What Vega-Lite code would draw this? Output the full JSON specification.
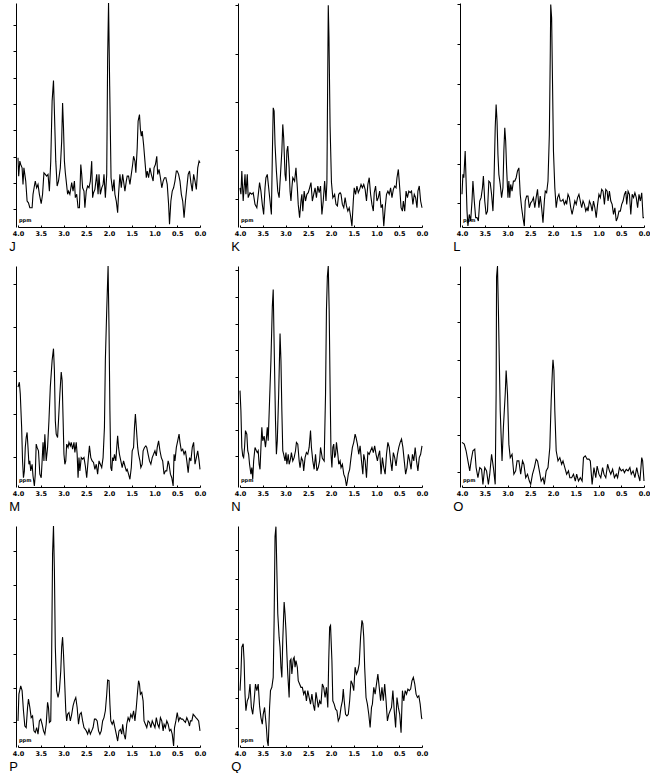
{
"$schema": "https://vega.github.io/schema/vega-lite/v6.json",
"padding": {"left": 9, "top": 0, "right": 0, "bottom": 0},
"background": "white",
"config": {
 "view": {"stroke": null},
 "axisX": {"labelFontSize": 6.5, "labelFontWeight": "bold", "labelFont": "DejaVu Sans", "labelColor": "black", "tickSize": -2, "tickColor": "black", "domainColor": "black", "grid": false, "labelPadding": 5, "labelFlush": false, "labelOverlap": false, "labelSeparation": 0, "tickCount": 20},
 "axisY": {"labels": false, "tickSize": 3, "tickColor": "black", "domainColor": "black", "grid": false, "offset": 2, "tickCount": 20},
 "title": {"orient": "bottom", "anchor": "start", "fontSize": 13, "fontWeight": "normal", "font": "Liberation Sans", "color": "black", "offset": 0, "dx": -3}
},
"datasets": {
"J": [{"ppm":4.00,"amp":30.9},{"ppm":3.985,"amp":22.7},{"ppm":3.96,"amp":29.4},{"ppm":3.94,"amp":27.9},{"ppm":3.91,"amp":26.4},{"ppm":3.89,"amp":19.0},{"ppm":3.87,"amp":26.4},{"ppm":3.85,"amp":23.5},{"ppm":3.83,"amp":20.5},{"ppm":3.80,"amp":11.6},{"ppm":3.77,"amp":10.8},{"ppm":3.74,"amp":8.6},{"ppm":3.69,"amp":8.6},{"ppm":3.67,"amp":14.6},{"ppm":3.64,"amp":18.3},{"ppm":3.62,"amp":20.5},{"ppm":3.59,"amp":17.5},{"ppm":3.56,"amp":19.0},{"ppm":3.53,"amp":14.6},{"ppm":3.49,"amp":10.4},{"ppm":3.46,"amp":14.6},{"ppm":3.43,"amp":24.2},{"ppm":3.40,"amp":23.5},{"ppm":3.37,"amp":22.7},{"ppm":3.34,"amp":23.5},{"ppm":3.31,"amp":16.0},{"ppm":3.28,"amp":29.4},{"ppm":3.25,"amp":56.2},{"ppm":3.22,"amp":65.4},{"ppm":3.20,"amp":51.7},{"ppm":3.17,"amp":29.4},{"ppm":3.14,"amp":18.3},{"ppm":3.11,"amp":20.5},{"ppm":3.07,"amp":26.4},{"ppm":3.04,"amp":38.3},{"ppm":3.02,"amp":55.4},{"ppm":3.00,"amp":44.3},{"ppm":2.98,"amp":29.4},{"ppm":2.96,"amp":24.2},{"ppm":2.94,"amp":20.5},{"ppm":2.91,"amp":14.6},{"ppm":2.89,"amp":16.0},{"ppm":2.86,"amp":14.6},{"ppm":2.82,"amp":19.8},{"ppm":2.79,"amp":16.0},{"ppm":2.76,"amp":20.5},{"ppm":2.74,"amp":13.1},{"ppm":2.71,"amp":14.6},{"ppm":2.68,"amp":8.6},{"ppm":2.65,"amp":8.6},{"ppm":2.62,"amp":27.9},{"ppm":2.60,"amp":23.5},{"ppm":2.58,"amp":17.5},{"ppm":2.55,"amp":16.0},{"ppm":2.53,"amp":8.6},{"ppm":2.50,"amp":16.0},{"ppm":2.47,"amp":18.3},{"ppm":2.44,"amp":17.5},{"ppm":2.41,"amp":20.5},{"ppm":2.38,"amp":29.4},{"ppm":2.36,"amp":13.1},{"ppm":2.34,"amp":15.3},{"ppm":2.31,"amp":16.8},{"ppm":2.27,"amp":23.5},{"ppm":2.24,"amp":14.6},{"ppm":2.22,"amp":23.5},{"ppm":2.19,"amp":14.6},{"ppm":2.16,"amp":17.5},{"ppm":2.13,"amp":19.0},{"ppm":2.11,"amp":23.5},{"ppm":2.08,"amp":13.1},{"ppm":2.05,"amp":23.5},{"ppm":2.03,"amp":75},{"ppm":2.01,"amp":100},{"ppm":1.985,"amp":63},{"ppm":1.955,"amp":22.0},{"ppm":1.92,"amp":16.0},{"ppm":1.89,"amp":21.2},{"ppm":1.87,"amp":14.6},{"ppm":1.84,"amp":11.6},{"ppm":1.81,"amp":6.4},{"ppm":1.79,"amp":14.6},{"ppm":1.76,"amp":23.5},{"ppm":1.73,"amp":17.5},{"ppm":1.70,"amp":23.5},{"ppm":1.68,"amp":20.5},{"ppm":1.65,"amp":16.0},{"ppm":1.62,"amp":20.5},{"ppm":1.60,"amp":22.7},{"ppm":1.57,"amp":22.7},{"ppm":1.54,"amp":19.0},{"ppm":1.51,"amp":23.5},{"ppm":1.48,"amp":27.9},{"ppm":1.46,"amp":31.6},{"ppm":1.43,"amp":29.4},{"ppm":1.41,"amp":24.2},{"ppm":1.38,"amp":35.4},{"ppm":1.36,"amp":47.3},{"ppm":1.33,"amp":50.2},{"ppm":1.31,"amp":43.5},{"ppm":1.29,"amp":40.6},{"ppm":1.27,"amp":42.8},{"ppm":1.24,"amp":36.8},{"ppm":1.21,"amp":29.4},{"ppm":1.18,"amp":22.0},{"ppm":1.16,"amp":25.0},{"ppm":1.13,"amp":22.0},{"ppm":1.10,"amp":26.4},{"ppm":1.07,"amp":23.5},{"ppm":1.03,"amp":20.5},{"ppm":1.01,"amp":26.4},{"ppm":0.98,"amp":27.9},{"ppm":0.95,"amp":31.6},{"ppm":0.93,"amp":23.5},{"ppm":0.90,"amp":25.7},{"ppm":0.87,"amp":22.0},{"ppm":0.84,"amp":17.5},{"ppm":0.81,"amp":20.5},{"ppm":0.78,"amp":22.0},{"ppm":0.75,"amp":22.0},{"ppm":0.72,"amp":19.0},{"ppm":0.69,"amp":10.1},{"ppm":0.67,"amp":1.2},{"ppm":0.64,"amp":11.6},{"ppm":0.61,"amp":16.0},{"ppm":0.58,"amp":17.5},{"ppm":0.55,"amp":20.5},{"ppm":0.52,"amp":25.0},{"ppm":0.50,"amp":25.0},{"ppm":0.47,"amp":23.5},{"ppm":0.44,"amp":20.5},{"ppm":0.41,"amp":14.6},{"ppm":0.38,"amp":11.6},{"ppm":0.35,"amp":4.2},{"ppm":0.32,"amp":11.6},{"ppm":0.29,"amp":17.5},{"ppm":0.26,"amp":23.5},{"ppm":0.23,"amp":25.0},{"ppm":0.20,"amp":19.8},{"ppm":0.17,"amp":16.0},{"ppm":0.14,"amp":23.5},{"ppm":0.11,"amp":20.5},{"ppm":0.08,"amp":16.8},{"ppm":0.05,"amp":26.4},{"ppm":0.02,"amp":29.4},{"ppm":0.00,"amp":28.7}],
"K": [{"ppm":4.00,"amp":17.5},{"ppm":3.98,"amp":14.6},{"ppm":3.96,"amp":25.0},{"ppm":3.93,"amp":11.6},{"ppm":3.91,"amp":17.5},{"ppm":3.89,"amp":23.5},{"ppm":3.87,"amp":14.6},{"ppm":3.84,"amp":23.5},{"ppm":3.82,"amp":13.1},{"ppm":3.78,"amp":15.3},{"ppm":3.74,"amp":14.6},{"ppm":3.71,"amp":15.3},{"ppm":3.67,"amp":10.1},{"ppm":3.63,"amp":8.6},{"ppm":3.59,"amp":16.0},{"ppm":3.57,"amp":19.8},{"ppm":3.54,"amp":16.0},{"ppm":3.51,"amp":10.1},{"ppm":3.48,"amp":5.6},{"ppm":3.45,"amp":17.5},{"ppm":3.43,"amp":22.0},{"ppm":3.40,"amp":23.5},{"ppm":3.37,"amp":17.5},{"ppm":3.34,"amp":11.6},{"ppm":3.31,"amp":5.6},{"ppm":3.29,"amp":30.9},{"ppm":3.27,"amp":53.2},{"ppm":3.25,"amp":51.7},{"ppm":3.23,"amp":36.8},{"ppm":3.20,"amp":25.0},{"ppm":3.17,"amp":16.0},{"ppm":3.14,"amp":13.1},{"ppm":3.11,"amp":23.5},{"ppm":3.08,"amp":33.9},{"ppm":3.06,"amp":45.8},{"ppm":3.04,"amp":39.8},{"ppm":3.01,"amp":23.5},{"ppm":2.99,"amp":20.5},{"ppm":2.97,"amp":33.9},{"ppm":2.95,"amp":36.1},{"ppm":2.92,"amp":26.4},{"ppm":2.90,"amp":16.0},{"ppm":2.88,"amp":11.6},{"ppm":2.86,"amp":17.5},{"ppm":2.84,"amp":22.0},{"ppm":2.80,"amp":20.5},{"ppm":2.77,"amp":26.4},{"ppm":2.74,"amp":17.5},{"ppm":2.72,"amp":10.1},{"ppm":2.69,"amp":4.2},{"ppm":2.66,"amp":11.6},{"ppm":2.64,"amp":14.6},{"ppm":2.62,"amp":7.1},{"ppm":2.59,"amp":16.0},{"ppm":2.56,"amp":11.6},{"ppm":2.53,"amp":14.6},{"ppm":2.50,"amp":15.3},{"ppm":2.47,"amp":17.5},{"ppm":2.44,"amp":19.8},{"ppm":2.41,"amp":11.6},{"ppm":2.38,"amp":14.6},{"ppm":2.35,"amp":17.5},{"ppm":2.32,"amp":13.1},{"ppm":2.29,"amp":18.3},{"ppm":2.26,"amp":15.3},{"ppm":2.23,"amp":18.3},{"ppm":2.20,"amp":5.6},{"ppm":2.17,"amp":11.6},{"ppm":2.14,"amp":20.5},{"ppm":2.11,"amp":11.6},{"ppm":2.09,"amp":20},{"ppm":2.075,"amp":60},{"ppm":2.06,"amp":99},{"ppm":2.045,"amp":85},{"ppm":2.02,"amp":45},{"ppm":1.99,"amp":20},{"ppm":1.96,"amp":13},{"ppm":1.92,"amp":14.6},{"ppm":1.89,"amp":10.1},{"ppm":1.86,"amp":9.4},{"ppm":1.83,"amp":14.6},{"ppm":1.80,"amp":15.3},{"ppm":1.78,"amp":14.6},{"ppm":1.75,"amp":10.1},{"ppm":1.72,"amp":8.6},{"ppm":1.69,"amp":13.1},{"ppm":1.66,"amp":9.4},{"ppm":1.63,"amp":7.1},{"ppm":1.60,"amp":8.6},{"ppm":1.57,"amp":4.9},{"ppm":1.54,"amp":0.4},{"ppm":1.51,"amp":11.6},{"ppm":1.49,"amp":17.5},{"ppm":1.46,"amp":14.6},{"ppm":1.43,"amp":18.3},{"ppm":1.40,"amp":15.3},{"ppm":1.37,"amp":16.8},{"ppm":1.34,"amp":19.0},{"ppm":1.31,"amp":17.5},{"ppm":1.28,"amp":19.0},{"ppm":1.25,"amp":16.8},{"ppm":1.22,"amp":11.6},{"ppm":1.19,"amp":19.0},{"ppm":1.16,"amp":22.0},{"ppm":1.13,"amp":14.6},{"ppm":1.10,"amp":10.1},{"ppm":1.07,"amp":7.1},{"ppm":1.05,"amp":15.3},{"ppm":1.02,"amp":18.3},{"ppm":0.99,"amp":11.6},{"ppm":0.96,"amp":13.1},{"ppm":0.93,"amp":16.0},{"ppm":0.90,"amp":8.6},{"ppm":0.87,"amp":10.1},{"ppm":0.84,"amp":0.4},{"ppm":0.81,"amp":8.6},{"ppm":0.78,"amp":14.6},{"ppm":0.75,"amp":16.0},{"ppm":0.72,"amp":14.6},{"ppm":0.69,"amp":17.5},{"ppm":0.66,"amp":13.1},{"ppm":0.63,"amp":16.8},{"ppm":0.60,"amp":18.3},{"ppm":0.57,"amp":17.5},{"ppm":0.55,"amp":22.0},{"ppm":0.52,"amp":25.7},{"ppm":0.49,"amp":17.5},{"ppm":0.46,"amp":8.6},{"ppm":0.43,"amp":7.1},{"ppm":0.41,"amp":11.6},{"ppm":0.38,"amp":7.1},{"ppm":0.35,"amp":16.0},{"ppm":0.32,"amp":13.1},{"ppm":0.29,"amp":16.0},{"ppm":0.26,"amp":15.3},{"ppm":0.23,"amp":16.0},{"ppm":0.20,"amp":10.1},{"ppm":0.17,"amp":14.6},{"ppm":0.14,"amp":13.1},{"ppm":0.11,"amp":8.6},{"ppm":0.09,"amp":16.0},{"ppm":0.06,"amp":18.3},{"ppm":0.03,"amp":11.6},{"ppm":0.00,"amp":8.6}],
"L": [{"ppm":4.00,"amp":14.6},{"ppm":3.98,"amp":23.5},{"ppm":3.96,"amp":22.0},{"ppm":3.93,"amp":33.9},{"ppm":3.91,"amp":20.5},{"ppm":3.89,"amp":7.1},{"ppm":3.87,"amp":0.5},{"ppm":3.84,"amp":5.6},{"ppm":3.81,"amp":2.7},{"ppm":3.78,"amp":11.6},{"ppm":3.76,"amp":20.5},{"ppm":3.73,"amp":11.6},{"ppm":3.70,"amp":4.2},{"ppm":3.67,"amp":4.2},{"ppm":3.64,"amp":2.7},{"ppm":3.61,"amp":11.6},{"ppm":3.58,"amp":13.1},{"ppm":3.55,"amp":17.5},{"ppm":3.53,"amp":22.7},{"ppm":3.50,"amp":11.6},{"ppm":3.47,"amp":5.6},{"ppm":3.44,"amp":7.1},{"ppm":3.41,"amp":20.5},{"ppm":3.38,"amp":19.8},{"ppm":3.35,"amp":14.6},{"ppm":3.32,"amp":7.1},{"ppm":3.30,"amp":17.5},{"ppm":3.27,"amp":44.3},{"ppm":3.25,"amp":54.7},{"ppm":3.23,"amp":47.3},{"ppm":3.21,"amp":32.4},{"ppm":3.19,"amp":23.5},{"ppm":3.16,"amp":19.0},{"ppm":3.13,"amp":13.1},{"ppm":3.10,"amp":17.5},{"ppm":3.08,"amp":33.9},{"ppm":3.06,"amp":44.3},{"ppm":3.04,"amp":38.3},{"ppm":3.02,"amp":26.4},{"ppm":2.99,"amp":13.1},{"ppm":2.97,"amp":20.5},{"ppm":2.95,"amp":13.1},{"ppm":2.93,"amp":19.0},{"ppm":2.90,"amp":16.0},{"ppm":2.87,"amp":20.5},{"ppm":2.84,"amp":20.5},{"ppm":2.81,"amp":22.0},{"ppm":2.78,"amp":25.0},{"ppm":2.75,"amp":26.4},{"ppm":2.72,"amp":14.6},{"ppm":2.69,"amp":8.6},{"ppm":2.66,"amp":4.2},{"ppm":2.63,"amp":0.4},{"ppm":2.61,"amp":11.6},{"ppm":2.58,"amp":13.8},{"ppm":2.55,"amp":13.8},{"ppm":2.52,"amp":8.6},{"ppm":2.49,"amp":10.8},{"ppm":2.46,"amp":11.6},{"ppm":2.43,"amp":13.1},{"ppm":2.40,"amp":8.6},{"ppm":2.37,"amp":13.1},{"ppm":2.34,"amp":16.8},{"ppm":2.31,"amp":8.6},{"ppm":2.28,"amp":13.8},{"ppm":2.25,"amp":8.6},{"ppm":2.22,"amp":1.9},{"ppm":2.19,"amp":11.6},{"ppm":2.17,"amp":16.0},{"ppm":2.14,"amp":15.3},{"ppm":2.11,"amp":20.5},{"ppm":2.08,"amp":41.3},{"ppm":2.06,"amp":77.0},{"ppm":2.05,"amp":99.3},{"ppm":2.03,"amp":93.3},{"ppm":2.01,"amp":63.6},{"ppm":1.99,"amp":33.9},{"ppm":1.96,"amp":17.5},{"ppm":1.93,"amp":8.6},{"ppm":1.90,"amp":13.1},{"ppm":1.87,"amp":14.6},{"ppm":1.84,"amp":11.6},{"ppm":1.81,"amp":11.6},{"ppm":1.78,"amp":12.3},{"ppm":1.75,"amp":10.1},{"ppm":1.72,"amp":11.6},{"ppm":1.70,"amp":10.1},{"ppm":1.67,"amp":14.6},{"ppm":1.64,"amp":13.1},{"ppm":1.61,"amp":8.6},{"ppm":1.58,"amp":5.6},{"ppm":1.55,"amp":8.6},{"ppm":1.52,"amp":11.6},{"ppm":1.49,"amp":10.1},{"ppm":1.46,"amp":13.1},{"ppm":1.43,"amp":14.6},{"ppm":1.40,"amp":11.6},{"ppm":1.37,"amp":8.6},{"ppm":1.34,"amp":11.6},{"ppm":1.31,"amp":10.1},{"ppm":1.28,"amp":7.1},{"ppm":1.25,"amp":8.6},{"ppm":1.23,"amp":7.1},{"ppm":1.20,"amp":11.6},{"ppm":1.17,"amp":10.1},{"ppm":1.14,"amp":7.1},{"ppm":1.11,"amp":11.6},{"ppm":1.08,"amp":8.6},{"ppm":1.05,"amp":4.2},{"ppm":1.02,"amp":10.1},{"ppm":0.99,"amp":14.6},{"ppm":0.96,"amp":13.1},{"ppm":0.93,"amp":16.8},{"ppm":0.90,"amp":16.0},{"ppm":0.87,"amp":10.1},{"ppm":0.84,"amp":16.8},{"ppm":0.81,"amp":16.0},{"ppm":0.79,"amp":11.6},{"ppm":0.76,"amp":16.0},{"ppm":0.73,"amp":11.6},{"ppm":0.70,"amp":10.1},{"ppm":0.67,"amp":5.6},{"ppm":0.64,"amp":8.6},{"ppm":0.61,"amp":2.7},{"ppm":0.58,"amp":4.2},{"ppm":0.55,"amp":7.1},{"ppm":0.52,"amp":7.1},{"ppm":0.49,"amp":10.1},{"ppm":0.46,"amp":11.6},{"ppm":0.43,"amp":14.6},{"ppm":0.40,"amp":16.0},{"ppm":0.38,"amp":10.1},{"ppm":0.35,"amp":16.0},{"ppm":0.32,"amp":14.6},{"ppm":0.29,"amp":5.6},{"ppm":0.26,"amp":14.6},{"ppm":0.23,"amp":13.1},{"ppm":0.20,"amp":15.3},{"ppm":0.17,"amp":13.1},{"ppm":0.14,"amp":8.6},{"ppm":0.11,"amp":14.6},{"ppm":0.08,"amp":11.6},{"ppm":0.05,"amp":15.3},{"ppm":0.02,"amp":4.2},{"ppm":0.00,"amp":4.2}],
"M": [{"ppm":4.00,"amp":45.2},{"ppm":3.97,"amp":47.4},{"ppm":3.95,"amp":42.1},{"ppm":3.92,"amp":27.0},{"ppm":3.90,"amp":11.8},{"ppm":3.88,"amp":4.2},{"ppm":3.86,"amp":7.3},{"ppm":3.84,"amp":17.9},{"ppm":3.82,"amp":22.4},{"ppm":3.80,"amp":24.7},{"ppm":3.78,"amp":17.9},{"ppm":3.76,"amp":10.3},{"ppm":3.74,"amp":11.8},{"ppm":3.72,"amp":7.3},{"ppm":3.69,"amp":10.3},{"ppm":3.67,"amp":5.0},{"ppm":3.64,"amp":0.5},{"ppm":3.62,"amp":5.8},{"ppm":3.60,"amp":19.4},{"ppm":3.58,"amp":17.9},{"ppm":3.55,"amp":16.4},{"ppm":3.52,"amp":5.8},{"ppm":3.49,"amp":4.2},{"ppm":3.47,"amp":11.8},{"ppm":3.45,"amp":20.2},{"ppm":3.43,"amp":11.8},{"ppm":3.41,"amp":23.9},{"ppm":3.38,"amp":11.8},{"ppm":3.35,"amp":17.9},{"ppm":3.32,"amp":30.0},{"ppm":3.29,"amp":45.2},{"ppm":3.25,"amp":57.3},{"ppm":3.22,"amp":62.6},{"ppm":3.20,"amp":52.7},{"ppm":3.18,"amp":30.0},{"ppm":3.16,"amp":23.9},{"ppm":3.13,"amp":22.4},{"ppm":3.11,"amp":30.0},{"ppm":3.08,"amp":42.1},{"ppm":3.05,"amp":52.0},{"ppm":3.03,"amp":48.2},{"ppm":3.01,"amp":31.5},{"ppm":2.99,"amp":14.8},{"ppm":2.97,"amp":10.3},{"ppm":2.95,"amp":11.8},{"ppm":2.93,"amp":19.4},{"ppm":2.90,"amp":17.9},{"ppm":2.88,"amp":20.2},{"ppm":2.85,"amp":18.6},{"ppm":2.83,"amp":20.2},{"ppm":2.80,"amp":17.1},{"ppm":2.77,"amp":20.2},{"ppm":2.75,"amp":15.6},{"ppm":2.72,"amp":20.2},{"ppm":2.70,"amp":14.8},{"ppm":2.68,"amp":4.2},{"ppm":2.66,"amp":13.3},{"ppm":2.64,"amp":7.3},{"ppm":2.61,"amp":13.3},{"ppm":2.58,"amp":12.6},{"ppm":2.55,"amp":13.3},{"ppm":2.52,"amp":9.5},{"ppm":2.49,"amp":4.2},{"ppm":2.46,"amp":11.8},{"ppm":2.43,"amp":18.6},{"ppm":2.40,"amp":13.3},{"ppm":2.37,"amp":11.8},{"ppm":2.34,"amp":11.1},{"ppm":2.31,"amp":8.0},{"ppm":2.28,"amp":10.3},{"ppm":2.25,"amp":5.8},{"ppm":2.22,"amp":11.8},{"ppm":2.19,"amp":10.3},{"ppm":2.16,"amp":8.8},{"ppm":2.13,"amp":13.3},{"ppm":2.10,"amp":27.0},{"ppm":2.08,"amp":57.3},{"ppm":2.05,"amp":80.0},{"ppm":2.02,"amp":100},{"ppm":2.00,"amp":72.4},{"ppm":1.98,"amp":34.5},{"ppm":1.96,"amp":8.8},{"ppm":1.94,"amp":7.3},{"ppm":1.92,"amp":13.3},{"ppm":1.90,"amp":11.8},{"ppm":1.88,"amp":14.8},{"ppm":1.85,"amp":11.8},{"ppm":1.83,"amp":17.9},{"ppm":1.81,"amp":23.2},{"ppm":1.79,"amp":17.9},{"ppm":1.77,"amp":14.8},{"ppm":1.74,"amp":11.8},{"ppm":1.71,"amp":8.8},{"ppm":1.68,"amp":11.8},{"ppm":1.65,"amp":9.5},{"ppm":1.62,"amp":7.3},{"ppm":1.60,"amp":8.0},{"ppm":1.57,"amp":5.8},{"ppm":1.54,"amp":3.5},{"ppm":1.51,"amp":8.8},{"ppm":1.49,"amp":16.4},{"ppm":1.46,"amp":17.9},{"ppm":1.44,"amp":27.0},{"ppm":1.42,"amp":33.0},{"ppm":1.40,"amp":27.0},{"ppm":1.37,"amp":17.9},{"ppm":1.35,"amp":14.8},{"ppm":1.32,"amp":11.8},{"ppm":1.30,"amp":8.8},{"ppm":1.27,"amp":10.3},{"ppm":1.25,"amp":16.4},{"ppm":1.22,"amp":17.9},{"ppm":1.19,"amp":18.6},{"ppm":1.17,"amp":17.9},{"ppm":1.14,"amp":14.8},{"ppm":1.11,"amp":11.8},{"ppm":1.08,"amp":10.3},{"ppm":1.05,"amp":13.3},{"ppm":1.02,"amp":14.8},{"ppm":0.99,"amp":16.4},{"ppm":0.96,"amp":14.1},{"ppm":0.94,"amp":17.9},{"ppm":0.91,"amp":20.9},{"ppm":0.88,"amp":16.4},{"ppm":0.85,"amp":13.3},{"ppm":0.82,"amp":11.8},{"ppm":0.79,"amp":5.8},{"ppm":0.76,"amp":7.3},{"ppm":0.73,"amp":7.3},{"ppm":0.70,"amp":11.8},{"ppm":0.68,"amp":10.3},{"ppm":0.65,"amp":5.8},{"ppm":0.62,"amp":4.2},{"ppm":0.59,"amp":0.5},{"ppm":0.57,"amp":14.8},{"ppm":0.55,"amp":11.8},{"ppm":0.52,"amp":17.9},{"ppm":0.49,"amp":20.9},{"ppm":0.46,"amp":23.9},{"ppm":0.44,"amp":20.2},{"ppm":0.41,"amp":16.4},{"ppm":0.38,"amp":17.1},{"ppm":0.35,"amp":14.8},{"ppm":0.32,"amp":16.4},{"ppm":0.29,"amp":11.8},{"ppm":0.26,"amp":6.5},{"ppm":0.23,"amp":13.3},{"ppm":0.20,"amp":11.8},{"ppm":0.17,"amp":17.9},{"ppm":0.14,"amp":20.2},{"ppm":0.11,"amp":10.3},{"ppm":0.08,"amp":13.3},{"ppm":0.05,"amp":16.4},{"ppm":0.02,"amp":11.8},{"ppm":0.00,"amp":8.0}],
"N": [{"ppm":4.00,"amp":43.6},{"ppm":3.98,"amp":34.5},{"ppm":3.96,"amp":17.9},{"ppm":3.94,"amp":14.1},{"ppm":3.92,"amp":13.3},{"ppm":3.90,"amp":17.9},{"ppm":3.88,"amp":25.5},{"ppm":3.85,"amp":23.9},{"ppm":3.83,"amp":16.4},{"ppm":3.81,"amp":14.8},{"ppm":3.79,"amp":10.3},{"ppm":3.76,"amp":5.8},{"ppm":3.74,"amp":8.8},{"ppm":3.72,"amp":3.5},{"ppm":3.70,"amp":11.8},{"ppm":3.67,"amp":17.9},{"ppm":3.64,"amp":16.4},{"ppm":3.62,"amp":15.6},{"ppm":3.60,"amp":16.4},{"ppm":3.58,"amp":10.3},{"ppm":3.56,"amp":8.0},{"ppm":3.54,"amp":17.9},{"ppm":3.52,"amp":27.0},{"ppm":3.50,"amp":20.9},{"ppm":3.47,"amp":23.0},{"ppm":3.44,"amp":18.0},{"ppm":3.42,"amp":22.0},{"ppm":3.40,"amp":27.0},{"ppm":3.38,"amp":20.9},{"ppm":3.35,"amp":39.1},{"ppm":3.32,"amp":57.3},{"ppm":3.29,"amp":81.5},{"ppm":3.27,"amp":89.4},{"ppm":3.25,"amp":64.8},{"ppm":3.22,"amp":30.0},{"ppm":3.20,"amp":14.8},{"ppm":3.18,"amp":20.9},{"ppm":3.15,"amp":42.1},{"ppm":3.12,"amp":69.4},{"ppm":3.10,"amp":57.3},{"ppm":3.08,"amp":34.5},{"ppm":3.06,"amp":16.4},{"ppm":3.04,"amp":14.8},{"ppm":3.01,"amp":11.8},{"ppm":2.99,"amp":15.6},{"ppm":2.97,"amp":10.3},{"ppm":2.94,"amp":14.8},{"ppm":2.92,"amp":10.3},{"ppm":2.89,"amp":12.6},{"ppm":2.87,"amp":15.6},{"ppm":2.84,"amp":11.8},{"ppm":2.81,"amp":13.3},{"ppm":2.78,"amp":16.4},{"ppm":2.76,"amp":20.2},{"ppm":2.73,"amp":19.4},{"ppm":2.70,"amp":11.8},{"ppm":2.68,"amp":8.8},{"ppm":2.65,"amp":13.3},{"ppm":2.62,"amp":11.8},{"ppm":2.60,"amp":7.3},{"ppm":2.57,"amp":13.3},{"ppm":2.54,"amp":15.6},{"ppm":2.51,"amp":14.8},{"ppm":2.48,"amp":17.9},{"ppm":2.45,"amp":25.5},{"ppm":2.43,"amp":17.9},{"ppm":2.40,"amp":11.8},{"ppm":2.37,"amp":8.0},{"ppm":2.34,"amp":14.8},{"ppm":2.31,"amp":7.3},{"ppm":2.28,"amp":8.8},{"ppm":2.25,"amp":11.8},{"ppm":2.23,"amp":17.9},{"ppm":2.19,"amp":13.0},{"ppm":2.15,"amp":11.8},{"ppm":2.12,"amp":42.1},{"ppm":2.10,"amp":80.0},{"ppm":2.08,"amp":95.2},{"ppm":2.06,"amp":100},{"ppm":2.04,"amp":80.0},{"ppm":2.02,"amp":45.2},{"ppm":2.00,"amp":14.8},{"ppm":1.98,"amp":8.8},{"ppm":1.96,"amp":17.9},{"ppm":1.94,"amp":19.4},{"ppm":1.92,"amp":13.3},{"ppm":1.90,"amp":14.8},{"ppm":1.88,"amp":20.2},{"ppm":1.85,"amp":14.8},{"ppm":1.83,"amp":10.3},{"ppm":1.80,"amp":11.8},{"ppm":1.78,"amp":8.8},{"ppm":1.75,"amp":10.3},{"ppm":1.72,"amp":5.8},{"ppm":1.69,"amp":4.2},{"ppm":1.66,"amp":0.5},{"ppm":1.64,"amp":2.7},{"ppm":1.62,"amp":5.8},{"ppm":1.59,"amp":8.0},{"ppm":1.56,"amp":13.3},{"ppm":1.53,"amp":17.9},{"ppm":1.50,"amp":20.2},{"ppm":1.47,"amp":23.9},{"ppm":1.45,"amp":22.4},{"ppm":1.42,"amp":19.4},{"ppm":1.39,"amp":14.8},{"ppm":1.36,"amp":18.6},{"ppm":1.33,"amp":11.8},{"ppm":1.30,"amp":5.8},{"ppm":1.28,"amp":14.8},{"ppm":1.25,"amp":11.8},{"ppm":1.22,"amp":4.2},{"ppm":1.19,"amp":15.6},{"ppm":1.16,"amp":14.8},{"ppm":1.13,"amp":16.4},{"ppm":1.10,"amp":17.9},{"ppm":1.07,"amp":15.6},{"ppm":1.04,"amp":18.6},{"ppm":1.01,"amp":14.8},{"ppm":0.98,"amp":11.8},{"ppm":0.96,"amp":14.1},{"ppm":0.93,"amp":16.4},{"ppm":0.90,"amp":5.8},{"ppm":0.87,"amp":13.3},{"ppm":0.84,"amp":8.8},{"ppm":0.81,"amp":5.8},{"ppm":0.78,"amp":14.8},{"ppm":0.75,"amp":20.2},{"ppm":0.72,"amp":17.9},{"ppm":0.69,"amp":11.8},{"ppm":0.66,"amp":7.3},{"ppm":0.63,"amp":15.6},{"ppm":0.60,"amp":13.3},{"ppm":0.57,"amp":9.5},{"ppm":0.54,"amp":14.8},{"ppm":0.51,"amp":17.9},{"ppm":0.48,"amp":20.2},{"ppm":0.45,"amp":21.7},{"ppm":0.42,"amp":17.9},{"ppm":0.39,"amp":11.8},{"ppm":0.36,"amp":5.8},{"ppm":0.33,"amp":8.8},{"ppm":0.30,"amp":14.8},{"ppm":0.27,"amp":11.8},{"ppm":0.24,"amp":8.0},{"ppm":0.21,"amp":14.8},{"ppm":0.18,"amp":11.8},{"ppm":0.15,"amp":17.9},{"ppm":0.12,"amp":11.8},{"ppm":0.09,"amp":7.3},{"ppm":0.06,"amp":13.3},{"ppm":0.03,"amp":14.8},{"ppm":0.00,"amp":18.6}],
"O": [{"ppm":4.00,"amp":20.2},{"ppm":3.95,"amp":19.4},{"ppm":3.91,"amp":16.4},{"ppm":3.87,"amp":11.8},{"ppm":3.83,"amp":7.3},{"ppm":3.80,"amp":11.8},{"ppm":3.76,"amp":16.4},{"ppm":3.72,"amp":17.1},{"ppm":3.69,"amp":8.8},{"ppm":3.65,"amp":4.2},{"ppm":3.61,"amp":8.8},{"ppm":3.57,"amp":8.0},{"ppm":3.54,"amp":1.2},{"ppm":3.50,"amp":8.8},{"ppm":3.46,"amp":7.3},{"ppm":3.42,"amp":1.2},{"ppm":3.39,"amp":5.8},{"ppm":3.35,"amp":14.8},{"ppm":3.31,"amp":8.8},{"ppm":3.27,"amp":1.2},{"ppm":3.25,"amp":42.1},{"ppm":3.24,"amp":95.2},{"ppm":3.22,"amp":100},{"ppm":3.20,"amp":80.0},{"ppm":3.16,"amp":34.5},{"ppm":3.12,"amp":11.8},{"ppm":3.09,"amp":27.0},{"ppm":3.05,"amp":42.1},{"ppm":3.03,"amp":52.7},{"ppm":3.00,"amp":42.1},{"ppm":2.97,"amp":19.4},{"ppm":2.94,"amp":13.3},{"ppm":2.90,"amp":14.8},{"ppm":2.86,"amp":5.8},{"ppm":2.82,"amp":7.3},{"ppm":2.79,"amp":11.8},{"ppm":2.75,"amp":11.8},{"ppm":2.71,"amp":5.8},{"ppm":2.67,"amp":11.8},{"ppm":2.64,"amp":10.3},{"ppm":2.60,"amp":4.2},{"ppm":2.56,"amp":5.8},{"ppm":2.52,"amp":2.7},{"ppm":2.49,"amp":1.2},{"ppm":2.45,"amp":5.8},{"ppm":2.41,"amp":8.8},{"ppm":2.37,"amp":12.6},{"ppm":2.34,"amp":11.8},{"ppm":2.30,"amp":7.3},{"ppm":2.26,"amp":2.7},{"ppm":2.22,"amp":4.2},{"ppm":2.19,"amp":1.2},{"ppm":2.15,"amp":7.3},{"ppm":2.11,"amp":8.8},{"ppm":2.07,"amp":17.9},{"ppm":2.04,"amp":39.1},{"ppm":2.01,"amp":54.2},{"ppm":2.00,"amp":57.6},{"ppm":1.98,"amp":52.7},{"ppm":1.96,"amp":34.5},{"ppm":1.93,"amp":16.4},{"ppm":1.89,"amp":11.8},{"ppm":1.85,"amp":13.3},{"ppm":1.81,"amp":10.3},{"ppm":1.78,"amp":11.8},{"ppm":1.74,"amp":8.8},{"ppm":1.70,"amp":5.8},{"ppm":1.66,"amp":7.3},{"ppm":1.63,"amp":4.2},{"ppm":1.59,"amp":4.2},{"ppm":1.55,"amp":5.8},{"ppm":1.51,"amp":2.7},{"ppm":1.48,"amp":5.8},{"ppm":1.44,"amp":2.7},{"ppm":1.40,"amp":4.2},{"ppm":1.36,"amp":2.7},{"ppm":1.33,"amp":13.3},{"ppm":1.29,"amp":14.1},{"ppm":1.25,"amp":12.6},{"ppm":1.21,"amp":12.6},{"ppm":1.18,"amp":11.8},{"ppm":1.14,"amp":1.2},{"ppm":1.10,"amp":8.8},{"ppm":1.06,"amp":4.2},{"ppm":1.03,"amp":9.5},{"ppm":0.99,"amp":5.8},{"ppm":0.95,"amp":4.2},{"ppm":0.91,"amp":8.8},{"ppm":0.88,"amp":5.8},{"ppm":0.84,"amp":4.2},{"ppm":0.80,"amp":10.3},{"ppm":0.76,"amp":7.3},{"ppm":0.73,"amp":5.8},{"ppm":0.69,"amp":8.0},{"ppm":0.65,"amp":4.2},{"ppm":0.61,"amp":5.8},{"ppm":0.58,"amp":4.2},{"ppm":0.54,"amp":8.8},{"ppm":0.50,"amp":7.3},{"ppm":0.46,"amp":8.0},{"ppm":0.43,"amp":6.5},{"ppm":0.39,"amp":8.0},{"ppm":0.35,"amp":7.3},{"ppm":0.31,"amp":8.8},{"ppm":0.28,"amp":5.8},{"ppm":0.24,"amp":7.3},{"ppm":0.20,"amp":4.2},{"ppm":0.16,"amp":8.8},{"ppm":0.13,"amp":5.8},{"ppm":0.09,"amp":2.7},{"ppm":0.05,"amp":13.3},{"ppm":0.03,"amp":11.8},{"ppm":0.00,"amp":2.7}],
"P": [{"ppm":4.00,"amp":11.8},{"ppm":3.98,"amp":23.9},{"ppm":3.94,"amp":27.7},{"ppm":3.91,"amp":25.5},{"ppm":3.88,"amp":16.4},{"ppm":3.85,"amp":9.5},{"ppm":3.82,"amp":8.8},{"ppm":3.79,"amp":17.9},{"ppm":3.77,"amp":21.7},{"ppm":3.74,"amp":17.9},{"ppm":3.71,"amp":13.3},{"ppm":3.68,"amp":14.1},{"ppm":3.65,"amp":7.3},{"ppm":3.62,"amp":6.5},{"ppm":3.59,"amp":8.8},{"ppm":3.56,"amp":5.8},{"ppm":3.53,"amp":11.8},{"ppm":3.50,"amp":12.6},{"ppm":3.47,"amp":10.3},{"ppm":3.44,"amp":7.3},{"ppm":3.41,"amp":5.8},{"ppm":3.38,"amp":10.3},{"ppm":3.35,"amp":20.2},{"ppm":3.33,"amp":17.9},{"ppm":3.31,"amp":11.1},{"ppm":3.28,"amp":11.8},{"ppm":3.26,"amp":42.1},{"ppm":3.24,"amp":87.6},{"ppm":3.22,"amp":100},{"ppm":3.20,"amp":80.0},{"ppm":3.18,"amp":45.2},{"ppm":3.15,"amp":25.5},{"ppm":3.12,"amp":22.4},{"ppm":3.09,"amp":25.5},{"ppm":3.06,"amp":34.5},{"ppm":3.04,"amp":45.2},{"ppm":3.02,"amp":49.7},{"ppm":3.00,"amp":42.1},{"ppm":2.97,"amp":27.0},{"ppm":2.95,"amp":16.4},{"ppm":2.93,"amp":11.8},{"ppm":2.91,"amp":14.8},{"ppm":2.88,"amp":15.6},{"ppm":2.85,"amp":11.8},{"ppm":2.82,"amp":14.8},{"ppm":2.79,"amp":18.6},{"ppm":2.76,"amp":20.9},{"ppm":2.73,"amp":22.4},{"ppm":2.70,"amp":17.9},{"ppm":2.67,"amp":10.3},{"ppm":2.64,"amp":14.8},{"ppm":2.61,"amp":15.6},{"ppm":2.58,"amp":11.8},{"ppm":2.55,"amp":8.8},{"ppm":2.52,"amp":8.0},{"ppm":2.50,"amp":7.3},{"ppm":2.47,"amp":5.8},{"ppm":2.44,"amp":8.0},{"ppm":2.41,"amp":5.8},{"ppm":2.38,"amp":7.3},{"ppm":2.35,"amp":8.8},{"ppm":2.32,"amp":12.6},{"ppm":2.29,"amp":12.6},{"ppm":2.26,"amp":11.8},{"ppm":2.23,"amp":7.3},{"ppm":2.20,"amp":5.8},{"ppm":2.17,"amp":7.3},{"ppm":2.14,"amp":11.8},{"ppm":2.11,"amp":13.3},{"ppm":2.08,"amp":16.4},{"ppm":2.05,"amp":23.9},{"ppm":2.03,"amp":30.3},{"ppm":2.00,"amp":30.0},{"ppm":1.98,"amp":19.4},{"ppm":1.96,"amp":11.8},{"ppm":1.93,"amp":10.3},{"ppm":1.90,"amp":11.8},{"ppm":1.87,"amp":8.8},{"ppm":1.84,"amp":5.8},{"ppm":1.81,"amp":2.7},{"ppm":1.78,"amp":7.3},{"ppm":1.75,"amp":8.0},{"ppm":1.72,"amp":5.8},{"ppm":1.70,"amp":10.3},{"ppm":1.67,"amp":5.8},{"ppm":1.64,"amp":3.5},{"ppm":1.61,"amp":10.3},{"ppm":1.58,"amp":13.3},{"ppm":1.55,"amp":11.8},{"ppm":1.52,"amp":14.8},{"ppm":1.49,"amp":13.3},{"ppm":1.46,"amp":16.4},{"ppm":1.43,"amp":11.8},{"ppm":1.40,"amp":17.9},{"ppm":1.37,"amp":25.5},{"ppm":1.35,"amp":30.0},{"ppm":1.33,"amp":28.5},{"ppm":1.31,"amp":23.9},{"ppm":1.28,"amp":24.7},{"ppm":1.25,"amp":20.9},{"ppm":1.23,"amp":11.8},{"ppm":1.20,"amp":10.3},{"ppm":1.17,"amp":8.8},{"ppm":1.14,"amp":11.8},{"ppm":1.11,"amp":11.1},{"ppm":1.08,"amp":8.8},{"ppm":1.05,"amp":11.8},{"ppm":1.02,"amp":10.3},{"ppm":0.99,"amp":8.8},{"ppm":0.96,"amp":13.3},{"ppm":0.93,"amp":10.3},{"ppm":0.90,"amp":8.8},{"ppm":0.87,"amp":13.3},{"ppm":0.84,"amp":11.8},{"ppm":0.81,"amp":7.3},{"ppm":0.79,"amp":10.3},{"ppm":0.76,"amp":8.8},{"ppm":0.73,"amp":11.8},{"ppm":0.70,"amp":10.3},{"ppm":0.67,"amp":7.3},{"ppm":0.64,"amp":8.0},{"ppm":0.61,"amp":5.8},{"ppm":0.58,"amp":0.5},{"ppm":0.56,"amp":8.8},{"ppm":0.53,"amp":11.8},{"ppm":0.50,"amp":15.6},{"ppm":0.47,"amp":11.8},{"ppm":0.44,"amp":13.3},{"ppm":0.41,"amp":12.6},{"ppm":0.38,"amp":12.6},{"ppm":0.35,"amp":11.8},{"ppm":0.32,"amp":11.1},{"ppm":0.29,"amp":13.3},{"ppm":0.26,"amp":11.8},{"ppm":0.23,"amp":9.5},{"ppm":0.21,"amp":11.8},{"ppm":0.18,"amp":11.8},{"ppm":0.15,"amp":14.8},{"ppm":0.12,"amp":14.1},{"ppm":0.09,"amp":13.3},{"ppm":0.06,"amp":12.6},{"ppm":0.03,"amp":11.8},{"ppm":0.00,"amp":7.3}],
"Q": [{"ppm":4.00,"amp":25.5},{"ppm":3.98,"amp":33.0},{"ppm":3.96,"amp":45.2},{"ppm":3.93,"amp":46.7},{"ppm":3.91,"amp":39.1},{"ppm":3.89,"amp":23.9},{"ppm":3.87,"amp":16.4},{"ppm":3.84,"amp":20.9},{"ppm":3.81,"amp":22.4},{"ppm":3.78,"amp":28.5},{"ppm":3.75,"amp":17.9},{"ppm":3.72,"amp":14.8},{"ppm":3.69,"amp":20.9},{"ppm":3.66,"amp":28.5},{"ppm":3.63,"amp":25.5},{"ppm":3.60,"amp":28.5},{"ppm":3.57,"amp":18.6},{"ppm":3.54,"amp":13.3},{"ppm":3.51,"amp":10.3},{"ppm":3.49,"amp":14.8},{"ppm":3.46,"amp":17.9},{"ppm":3.44,"amp":13.3},{"ppm":3.42,"amp":8.8},{"ppm":3.40,"amp":2.7},{"ppm":3.38,"amp":0.5},{"ppm":3.35,"amp":17.9},{"ppm":3.33,"amp":25.5},{"ppm":3.30,"amp":27.0},{"ppm":3.27,"amp":31.5},{"ppm":3.25,"amp":57.3},{"ppm":3.23,"amp":95.2},{"ppm":3.21,"amp":99.7},{"ppm":3.19,"amp":80.0},{"ppm":3.17,"amp":60.3},{"ppm":3.14,"amp":49.7},{"ppm":3.12,"amp":45.2},{"ppm":3.10,"amp":36.1},{"ppm":3.08,"amp":31.5},{"ppm":3.06,"amp":48.2},{"ppm":3.03,"amp":65.6},{"ppm":3.01,"amp":60.3},{"ppm":2.99,"amp":52.7},{"ppm":2.97,"amp":42.1},{"ppm":2.95,"amp":33.0},{"ppm":2.92,"amp":22.4},{"ppm":2.90,"amp":39.1},{"ppm":2.88,"amp":39.8},{"ppm":2.86,"amp":33.0},{"ppm":2.83,"amp":39.8},{"ppm":2.81,"amp":40.6},{"ppm":2.79,"amp":36.1},{"ppm":2.77,"amp":39.1},{"ppm":2.74,"amp":36.1},{"ppm":2.72,"amp":30.0},{"ppm":2.69,"amp":28.5},{"ppm":2.66,"amp":27.0},{"ppm":2.63,"amp":27.0},{"ppm":2.60,"amp":23.9},{"ppm":2.57,"amp":25.5},{"ppm":2.54,"amp":20.9},{"ppm":2.51,"amp":25.5},{"ppm":2.48,"amp":22.4},{"ppm":2.45,"amp":19.4},{"ppm":2.42,"amp":23.9},{"ppm":2.39,"amp":19.4},{"ppm":2.36,"amp":16.4},{"ppm":2.33,"amp":24.7},{"ppm":2.30,"amp":20.9},{"ppm":2.28,"amp":17.9},{"ppm":2.25,"amp":20.9},{"ppm":2.22,"amp":19.4},{"ppm":2.19,"amp":28.5},{"ppm":2.16,"amp":27.0},{"ppm":2.13,"amp":22.4},{"ppm":2.10,"amp":27.0},{"ppm":2.07,"amp":17.9},{"ppm":2.05,"amp":39.1},{"ppm":2.03,"amp":54.2},{"ppm":2.01,"amp":55.0},{"ppm":1.98,"amp":39.1},{"ppm":1.96,"amp":20.9},{"ppm":1.93,"amp":19.4},{"ppm":1.90,"amp":17.1},{"ppm":1.87,"amp":16.4},{"ppm":1.84,"amp":11.8},{"ppm":1.81,"amp":13.3},{"ppm":1.78,"amp":17.9},{"ppm":1.75,"amp":20.9},{"ppm":1.73,"amp":26.2},{"ppm":1.71,"amp":20.9},{"ppm":1.68,"amp":14.8},{"ppm":1.65,"amp":14.1},{"ppm":1.62,"amp":14.8},{"ppm":1.59,"amp":20.9},{"ppm":1.56,"amp":30.0},{"ppm":1.53,"amp":28.5},{"ppm":1.50,"amp":25.5},{"ppm":1.47,"amp":36.1},{"ppm":1.44,"amp":33.0},{"ppm":1.41,"amp":34.5},{"ppm":1.38,"amp":37.6},{"ppm":1.35,"amp":49.7},{"ppm":1.32,"amp":57.3},{"ppm":1.30,"amp":55.8},{"ppm":1.28,"amp":49.7},{"ppm":1.26,"amp":36.1},{"ppm":1.23,"amp":22.4},{"ppm":1.20,"amp":19.4},{"ppm":1.17,"amp":14.8},{"ppm":1.14,"amp":8.8},{"ppm":1.11,"amp":17.9},{"ppm":1.09,"amp":19.4},{"ppm":1.06,"amp":27.0},{"ppm":1.03,"amp":23.9},{"ppm":1.00,"amp":28.5},{"ppm":0.97,"amp":33.0},{"ppm":0.94,"amp":27.0},{"ppm":0.91,"amp":20.9},{"ppm":0.88,"amp":27.0},{"ppm":0.85,"amp":20.9},{"ppm":0.82,"amp":28.5},{"ppm":0.79,"amp":20.9},{"ppm":0.76,"amp":11.8},{"ppm":0.73,"amp":14.8},{"ppm":0.70,"amp":16.4},{"ppm":0.67,"amp":17.9},{"ppm":0.64,"amp":25.5},{"ppm":0.61,"amp":16.4},{"ppm":0.58,"amp":8.8},{"ppm":0.55,"amp":22.4},{"ppm":0.52,"amp":17.9},{"ppm":0.49,"amp":14.8},{"ppm":0.46,"amp":6.5},{"ppm":0.43,"amp":25.5},{"ppm":0.40,"amp":20.9},{"ppm":0.37,"amp":25.5},{"ppm":0.34,"amp":23.9},{"ppm":0.31,"amp":26.2},{"ppm":0.28,"amp":25.5},{"ppm":0.25,"amp":26.2},{"ppm":0.22,"amp":30.0},{"ppm":0.19,"amp":31.5},{"ppm":0.16,"amp":28.6},{"ppm":0.13,"amp":23.9},{"ppm":0.10,"amp":22.4},{"ppm":0.07,"amp":23.2},{"ppm":0.04,"amp":19.4},{"ppm":0.01,"amp":13.3},{"ppm":0.00,"amp":12.6}]
},
"columns": 3,
"spacing": {"row": 39, "column": 40},
"bounds": "flush",
"concat": [
  {"width": 182, "height": 224, "title": "J", "layer": [
   {"data": {"name": "J"}, "mark": {"type": "line", "color": "black", "strokeWidth": 1.1}, "encoding": {"x": {"field": "ppm", "type": "quantitative", "scale": {"domain": [4, 0], "nice": false}, "axis": {"title": null, "values": [4, 3.5, 3, 2.5, 2, 1.5, 1, 0.5, 0], "format": ".1f", "labelOverlap": false, "tickCount": 20}}, "y": {"field": "amp", "type": "quantitative", "scale": {"domain": [0, 100], "nice": false}, "axis": {"title": null, "tickCount": 20, "values": [7.9, 19.6, 31.4, 43.1, 54.7, 66.6, 78.5, 90.3]}}}},
   {"data": {"values": [{}]}, "mark": {"type": "text", "text": "ppm", "fontSize": 5, "fontWeight": "bold", "font": "DejaVu Sans", "align": "left", "baseline": "bottom", "dx": 1}, "encoding": {"x": {"datum": 4}, "y": {"datum": 2}}}
  ]},
  {"width": 182, "height": 224, "title": "K", "layer": [
   {"data": {"name": "K"}, "mark": {"type": "line", "color": "black", "strokeWidth": 1.1}, "encoding": {"x": {"field": "ppm", "type": "quantitative", "scale": {"domain": [4, 0], "nice": false}, "axis": {"title": null, "values": [4, 3.5, 3, 2.5, 2, 1.5, 1, 0.5, 0], "format": ".1f", "labelOverlap": false, "tickCount": 20}}, "y": {"field": "amp", "type": "quantitative", "scale": {"domain": [0, 100], "nice": false}, "axis": {"title": null, "tickCount": 20, "values": [12.5, 34.2, 55.7, 77.4, 99]}}}},
   {"data": {"values": [{}]}, "mark": {"type": "text", "text": "ppm", "fontSize": 5, "fontWeight": "bold", "font": "DejaVu Sans", "align": "left", "baseline": "bottom", "dx": 1}, "encoding": {"x": {"datum": 4}, "y": {"datum": 2}}}
  ]},
  {"width": 182, "height": 224, "title": "L", "layer": [
   {"data": {"name": "L"}, "mark": {"type": "line", "color": "black", "strokeWidth": 1.1}, "encoding": {"x": {"field": "ppm", "type": "quantitative", "scale": {"domain": [4, 0], "nice": false}, "axis": {"title": null, "values": [4, 3.5, 3, 2.5, 2, 1.5, 1, 0.5, 0], "format": ".1f", "labelOverlap": false, "tickCount": 20}}, "y": {"field": "amp", "type": "quantitative", "scale": {"domain": [0, 100], "nice": false}, "axis": {"title": null, "tickCount": 20, "values": [10.5, 28.2, 46.1, 63.9, 81.9, 99.6]}}}},
   {"data": {"values": [{}]}, "mark": {"type": "text", "text": "ppm", "fontSize": 5, "fontWeight": "bold", "font": "DejaVu Sans", "align": "left", "baseline": "bottom", "dx": 1}, "encoding": {"x": {"datum": 4}, "y": {"datum": 2}}}
  ]},
  {"width": 182, "height": 221, "title": "M", "layer": [
   {"data": {"name": "M"}, "mark": {"type": "line", "color": "black", "strokeWidth": 1.1}, "encoding": {"x": {"field": "ppm", "type": "quantitative", "scale": {"domain": [4, 0], "nice": false}, "axis": {"title": null, "values": [4, 3.5, 3, 2.5, 2, 1.5, 1, 0.5, 0], "format": ".1f", "labelOverlap": false, "tickCount": 20}}, "y": {"field": "amp", "type": "quantitative", "scale": {"domain": [0, 100], "nice": false}, "axis": {"title": null, "tickCount": 20, "values": [13.6, 33.0, 52.7, 72.4, 91.8]}}}},
   {"data": {"values": [{}]}, "mark": {"type": "text", "text": "ppm", "fontSize": 5, "fontWeight": "bold", "font": "DejaVu Sans", "align": "left", "baseline": "bottom", "dx": 1}, "encoding": {"x": {"datum": 4}, "y": {"datum": 2}}}
  ]},
  {"width": 182, "height": 221, "title": "N", "layer": [
   {"data": {"name": "N"}, "mark": {"type": "line", "color": "black", "strokeWidth": 1.1}, "encoding": {"x": {"field": "ppm", "type": "quantitative", "scale": {"domain": [4, 0], "nice": false}, "axis": {"title": null, "values": [4, 3.5, 3, 2.5, 2, 1.5, 1, 0.5, 0], "format": ".1f", "labelOverlap": false, "tickCount": 20}}, "y": {"field": "amp", "type": "quantitative", "scale": {"domain": [0, 100], "nice": false}, "axis": {"title": null, "tickCount": 20, "values": [14.1, 25.8, 37.9, 49.7, 61.8, 73.9, 86.1, 98.2]}}}},
   {"data": {"values": [{}]}, "mark": {"type": "text", "text": "ppm", "fontSize": 5, "fontWeight": "bold", "font": "DejaVu Sans", "align": "left", "baseline": "bottom", "dx": 1}, "encoding": {"x": {"datum": 4}, "y": {"datum": 2}}}
  ]},
  {"width": 182, "height": 221, "title": "O", "layer": [
   {"data": {"name": "O"}, "mark": {"type": "line", "color": "black", "strokeWidth": 1.1}, "encoding": {"x": {"field": "ppm", "type": "quantitative", "scale": {"domain": [4, 0], "nice": false}, "axis": {"title": null, "values": [4, 3.5, 3, 2.5, 2, 1.5, 1, 0.5, 0], "format": ".1f", "labelOverlap": false, "tickCount": 20}}, "y": {"field": "amp", "type": "quantitative", "scale": {"domain": [0, 100], "nice": false}, "axis": {"title": null, "tickCount": 20, "values": [6.7, 23.6, 40.6, 57.6, 74.7, 91.8]}}}},
   {"data": {"values": [{}]}, "mark": {"type": "text", "text": "ppm", "fontSize": 5, "fontWeight": "bold", "font": "DejaVu Sans", "align": "left", "baseline": "bottom", "dx": 1}, "encoding": {"x": {"datum": 4}, "y": {"datum": 2}}}
  ]},
  {"width": 182, "height": 221, "title": "P", "layer": [
   {"data": {"name": "P"}, "mark": {"type": "line", "color": "black", "strokeWidth": 1.1}, "encoding": {"x": {"field": "ppm", "type": "quantitative", "scale": {"domain": [4, 0], "nice": false}, "axis": {"title": null, "values": [4, 3.5, 3, 2.5, 2, 1.5, 1, 0.5, 0], "format": ".1f", "labelOverlap": false, "tickCount": 20}}, "y": {"field": "amp", "type": "quantitative", "scale": {"domain": [0, 100], "nice": false}, "axis": {"title": null, "tickCount": 20, "values": [11.4, 26.7, 42.1, 57.7, 73.2, 88.8]}}}},
   {"data": {"values": [{}]}, "mark": {"type": "text", "text": "ppm", "fontSize": 5, "fontWeight": "bold", "font": "DejaVu Sans", "align": "left", "baseline": "bottom", "dx": 1}, "encoding": {"x": {"datum": 4}, "y": {"datum": 2}}}
  ]},
  {"width": 182, "height": 221, "title": "Q", "layer": [
   {"data": {"name": "Q"}, "mark": {"type": "line", "color": "black", "strokeWidth": 1.1}, "encoding": {"x": {"field": "ppm", "type": "quantitative", "scale": {"domain": [4, 0], "nice": false}, "axis": {"title": null, "values": [4, 3.5, 3, 2.5, 2, 1.5, 1, 0.5, 0], "format": ".1f", "labelOverlap": false, "tickCount": 20}}, "y": {"field": "amp", "type": "quantitative", "scale": {"domain": [0, 100], "nice": false}, "axis": {"title": null, "tickCount": 20, "values": [8.8, 22.1, 35.6, 48.9, 62.3, 75.8, 89.1]}}}},
   {"data": {"values": [{}]}, "mark": {"type": "text", "text": "ppm", "fontSize": 5, "fontWeight": "bold", "font": "DejaVu Sans", "align": "left", "baseline": "bottom", "dx": 1}, "encoding": {"x": {"datum": 4}, "y": {"datum": 2}}}
  ]}
]
}
